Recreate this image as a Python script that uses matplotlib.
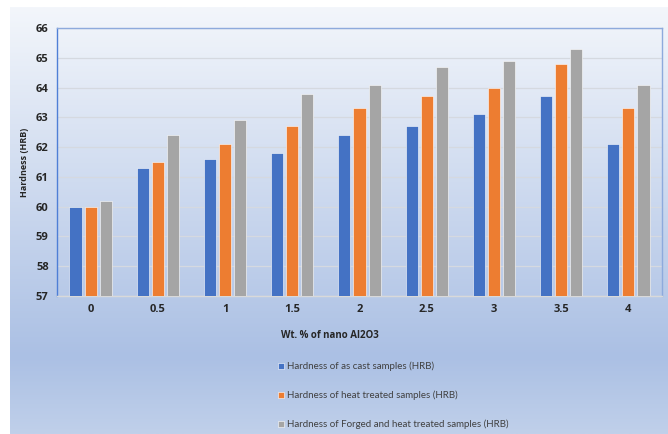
import numpy as np
import matplotlib.pyplot as plt
from matplotlib.colors import LinearSegmentedColormap

categories = ['0', '0.5', '1', '1.5', '2', '2.5', '3', '3.5', '4']
as_cast = [60.0, 61.3, 61.6, 61.8, 62.4, 62.7, 63.1, 63.7, 62.1]
heat_treated = [60.0, 61.5, 62.1, 62.7, 63.3, 63.7, 64.0, 64.8, 63.3]
forged_heat = [60.2, 62.4, 62.9, 63.8, 64.1, 64.7, 64.9, 65.3, 64.1]
series_labels = ['Hardness of as cast samples (HRB)',
                 'Hardness of heat treated samples (HRB)',
                 'Hardness of Forged and heat treated samples (HRB)']
colors = ['#4472c4', '#ed7d31', '#a5a5a5']

plt.rcParams['font.family'] = ['Open Sans', 'DejaVu Sans']

fig = plt.figure(figsize=(6.68, 4.34), dpi=100)

# gradient background panel (white border at top/left)
bg = fig.add_axes([10 / 668, 0, 658 / 668, 427 / 434], zorder=-10)
cmap = LinearSegmentedColormap.from_list(
    'bg', [(0, '#f3f6fb'), (0.82, '#abc0e4'), (1, '#c0d0ea')])
grad = np.linspace(0, 1, 256).reshape(-1, 1)
bg.imshow(grad, aspect='auto', cmap=cmap, extent=[0, 1, 0, 1], origin='upper')
bg.set_axis_off()

ax = fig.add_axes([57 / 668, 1 - 296 / 434, 605 / 668, 268 / 434])
ax.patch.set_alpha(0)

x = np.arange(len(categories))
w = 0.18
step = 0.225
for i, (vals, c, lab) in enumerate(zip([as_cast, heat_treated, forged_heat], colors, series_labels)):
    ax.bar(x + (i - 1) * step, np.array(vals) - 57, w, bottom=57, color=c,
           edgecolor='white', linewidth=0.4, label=lab, zorder=3)

ax.set_xlim(-0.5, len(categories) - 0.5)
ax.set_ylim(57, 66)
ax.set_yticks(range(57, 67))
ax.set_xticks(x)
ax.set_xticklabels(categories)
ax.tick_params(length=0, labelsize=8, colors='#262626', pad=6)
for t in ax.get_xticklabels() + ax.get_yticklabels():
    t.set_fontweight('bold')
ax.grid(axis='y', color='#d5d9e0', linewidth=0.9, zorder=0)
ax.set_axisbelow(True)

ax.spines['left'].set_color('#4f7fd6')
ax.spines['top'].set_color('#8eaadc')
ax.spines['right'].set_color('#8eaadc')
ax.spines['bottom'].set_color('#d9d9d9')
for s in ax.spines.values():
    s.set_linewidth(1.0)

ax.set_ylabel('Hardness (HRB)', fontsize=6.5, fontweight='bold', color='#262626')
ax.yaxis.set_label_coords(-0.046, 0.5)

fig.text(330 / 668, 1 - 335 / 434, 'Wt. % of nano Al2O3', ha='center', va='center',
         fontsize=7, fontweight='bold', color='#262626')

handles, labels = ax.get_legend_handles_labels()
fig.legend(handles, labels, loc='upper left', bbox_to_anchor=(274 / 668, 1 - 358 / 434),
           frameon=False, prop={'family': 'Lato', 'size': 7}, labelcolor='#404040',
           handlelength=0.6, handleheight=0.6, handletextpad=0.3, labelspacing=2.0,
           borderaxespad=0)

fig.savefig('out.png', dpi=100)
